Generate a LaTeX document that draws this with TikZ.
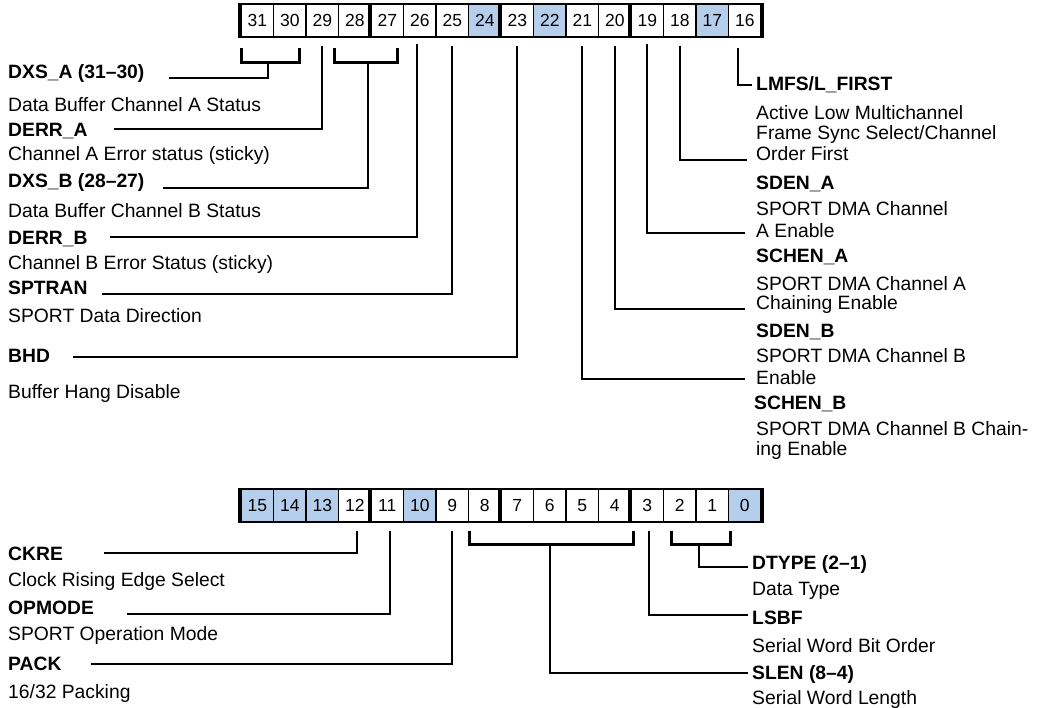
\documentclass[tikz,border=0pt]{standalone}
\usepackage{fontspec}
\setmainfont{Liberation Sans}
\usetikzlibrary{positioning}
\definecolor{bitblue}{RGB}{180,206,236}

\tikzset{
  bitcell/.style={draw, line width=1.3pt, minimum width=32.5pt, minimum height=33pt,
    inner sep=0pt, font=\fontsize{17.5}{19}\selectfont},
  nibble/.style={line width=4pt},
  conn/.style={line width=1.8pt},
  brace/.style={line width=2.8pt},
  fname/.style={anchor=base west, inner sep=0pt, font=\fontsize{19.3}{22}\selectfont\bfseries},
  fdesc/.style={anchor=base west, inner sep=0pt, font=\fontsize{19.3}{22}\selectfont},
}

\begin{document}
\begin{tikzpicture}[x=1pt, y=-1pt]
    \useasboundingbox (0,0) rectangle (1039,707);

    % Upper half-word (31-16)
    \foreach \b/\c in {31/white,30/white,29/white,28/white,27/white,26/white,25/white,24/bitblue,
                       23/white,22/bitblue,21/white,20/white,19/white,18/white,17/bitblue,16/white}
        \node[bitcell, fill=\c] (b\b) at ({257.25+(31-\b)*32.5},20.5) {\b};
    \foreach \b in {31,27,23,19}
        \draw[nibble] (b\b.north west) -- (b\b.south west);
    \draw[nibble] (b16.north east) -- (b16.south east);

    % Lower half-word (15-0)
    \foreach \b/\c in {15/bitblue,14/bitblue,13/bitblue,12/white,11/white,10/bitblue,9/white,8/white,
                       7/white,6/white,5/white,4/white,3/white,2/white,1/white,0/bitblue}
        \node[bitcell, fill=\c] (b\b) at ({257.25+(15-\b)*32.5},505.5) {\b};
    \foreach \b in {15,11,7,3}
        \draw[nibble] (b\b.north west) -- (b\b.south west);
    \draw[nibble] (b0.north east) -- (b0.south east);

    % Left labels, upper
    \node[fname] (dxsa) at (8,78) {DXS\_A (31--30)};
    \node[fdesc] (dxsad) at (8,111) {Data Buffer Channel A Status};
    \node[fname] (derra) at (8,136) {DERR\_A};
    \node[fdesc] (derrad) at (8,160) {Channel A Error status (sticky)};
    \node[fname] (dxsb) at (8,187) {DXS\_B (28--27)};
    \node[fdesc] (dxsbd) at (8,217) {Data Buffer Channel B Status};
    \node[fname] (derrb) at (8,244) {DERR\_B};
    \node[fdesc] (derrbd) at (8,269) {Channel B Error Status (sticky)};
    \node[fname] (sptran) at (8,294) {SPTRAN};
    \node[fdesc] (sptrand) at (8,322) {SPORT Data Direction};
    \node[fname] (bhd) at (8,362) {BHD};
    \node[fdesc] (bhdd) at (8,398) {Buffer Hang Disable};

    % Right labels, upper
    \node[fname] (lmfs) at (756,90) {LMFS/L\_FIRST};
    \node[fdesc] (lmfsd1) at (756,119) {Active Low Multichannel};
    \node[fdesc] (lmfsd2) at (756,139) {Frame Sync Select/Channel};
    \node[fdesc] (lmfsd3) at (756,160) {Order First};
    \node[fname] (sdena) at (756,189) {SDEN\_A};
    \node[fdesc] (sdenad1) at (756,215) {SPORT DMA Channel};
    \node[fdesc] (sdenad2) at (756,237) {A Enable};
    \node[fname] (schena) at (756,262) {SCHEN\_A};
    \node[fdesc] (schenad1) at (756,290) {SPORT DMA Channel A};
    \node[fdesc] (schenad2) at (756,309) {Chaining Enable};
    \node[fname] (sdenb) at (756,337) {SDEN\_B};
    \node[fdesc] (sdenbd1) at (756,362) {SPORT DMA Channel B};
    \node[fdesc] (sdenbd2) at (756,384) {Enable};
    \node[fname] (schenb) at (754,409) {SCHEN\_B};
    \node[fdesc] (schenbd1) at (756,435) {SPORT DMA Channel B Chain-};
    \node[fdesc] (schenbd2) at (756,455) {ing Enable};

    % Left labels, lower
    \node[fname] (ckre) at (8,560) {CKRE};
    \node[fdesc] (ckred) at (8,586) {Clock Rising Edge Select};
    \node[fname] (opmode) at (8,614) {OPMODE};
    \node[fdesc] (opmoded) at (8,640) {SPORT Operation Mode};
    \node[fname] (pack) at (8,670) {PACK};
    \node[fdesc] (packd) at (8,698) {16/32 Packing};

    % Right labels, lower
    \node[fname] (dtype) at (752,569) {DTYPE (2--1)};
    \node[fdesc] (dtyped) at (752,595) {Data Type};
    \node[fname] (lsbf) at (752,624) {LSBF};
    \node[fdesc] (lsbfd) at (752,652) {Serial Word Bit Order};
    \node[fname] (slen) at (752,679) {SLEN (8--4)};
    \node[fdesc] (slend) at (752,704) {Serial Word Length};

    % Brackets
    \draw[brace] ([xshift=1pt,yshift=-10pt]b31.south west) -- ([xshift=1pt,yshift=-25pt]b31.south west)
        -- ([xshift=-7pt,yshift=-25pt]b30.south east) -- ([xshift=-7pt,yshift=-10pt]b30.south east);
    \draw[brace] ([xshift=-3pt,yshift=-10pt]b28.south west) -- ([xshift=-3pt,yshift=-25pt]b28.south west)
        -- ([xshift=-7pt,yshift=-25pt]b27.south east) -- ([xshift=-7pt,yshift=-10pt]b27.south east);
    \draw[brace] ([xshift=2pt,yshift=-8pt]b8.south west) -- ([xshift=2pt,yshift=-22pt]b8.south west)
        -- ([xshift=2pt,yshift=-22pt]b4.south east) -- ([xshift=2pt,yshift=-8pt]b4.south east);
    \draw[brace] ([xshift=9pt,yshift=-8pt]b2.south west) -- ([xshift=9pt,yshift=-22pt]b2.south west)
        -- ([xshift=1pt,yshift=-22pt]b1.south east) -- ([xshift=1pt,yshift=-8pt]b1.south east);

    % Connectors, upper left
    \draw[conn] ([xshift=-6pt,yshift=-25pt]b31.south east) |- ([xshift=24pt]dxsa.base east);
    \draw[conn] ([yshift=-8pt]b29.south) |- ([xshift=26pt,yshift=7pt]derra.base east);
    \draw[conn] ([xshift=-4pt,yshift=-25pt]b28.south east) |- ([xshift=18pt,yshift=-1pt]dxsb.base east);
    \draw[conn] ([xshift=-3pt,yshift=-6pt]b26.south) |- ([xshift=22pt,yshift=7pt]derrb.base east);
    \draw[conn] ([yshift=-8pt]b25.south) |- ([xshift=14pt]sptran.base east);
    \draw[conn] ([yshift=-8pt]b23.south) |- ([xshift=23pt,yshift=5pt]bhd.base east);

    % Connectors, upper right
    \draw[conn] ([xshift=-7pt,yshift=-10pt]b16.south) |- ([xshift=-4pt,yshift=5pt]lmfs.base west);
    \draw[conn] ([yshift=-8pt]b18.south) |- ([xshift=-9pt]lmfsd3.base west);
    \draw[conn] ([yshift=-6pt]b19.south) |- ([xshift=-11pt,yshift=4pt]sdenad2.base west);
    \draw[conn] ([yshift=-8pt]b20.south) |- ([xshift=-11pt]schenad2.base west);
    \draw[conn] ([yshift=-8pt]b21.south) |- ([xshift=-11pt,yshift=5pt]sdenbd2.base west);

    % Connectors, lower
    \draw[conn] ([xshift=2pt,yshift=-8pt]b12.south) |- ([xshift=41pt,yshift=7pt]ckre.base east);
    \draw[conn] ([xshift=3pt,yshift=-8pt]b11.south) |- ([xshift=33pt]opmode.base east);
    \draw[conn] ([yshift=-8pt]b9.south) |- ([xshift=29pt,yshift=6pt]pack.base east);
    \draw[conn] ([xshift=2pt,yshift=-8pt]b3.south) |- ([xshift=-4pt,yshift=9pt]lsbf.base west);
    \draw[conn] ([yshift=-22pt]b6.south) |- ([xshift=-4pt,yshift=6pt]slen.base west);
    \draw[conn] ([xshift=4pt,yshift=-22pt]b1.south west) |- ([xshift=-4pt,yshift=2pt]dtype.base west);
\end{tikzpicture}
\end{document}
